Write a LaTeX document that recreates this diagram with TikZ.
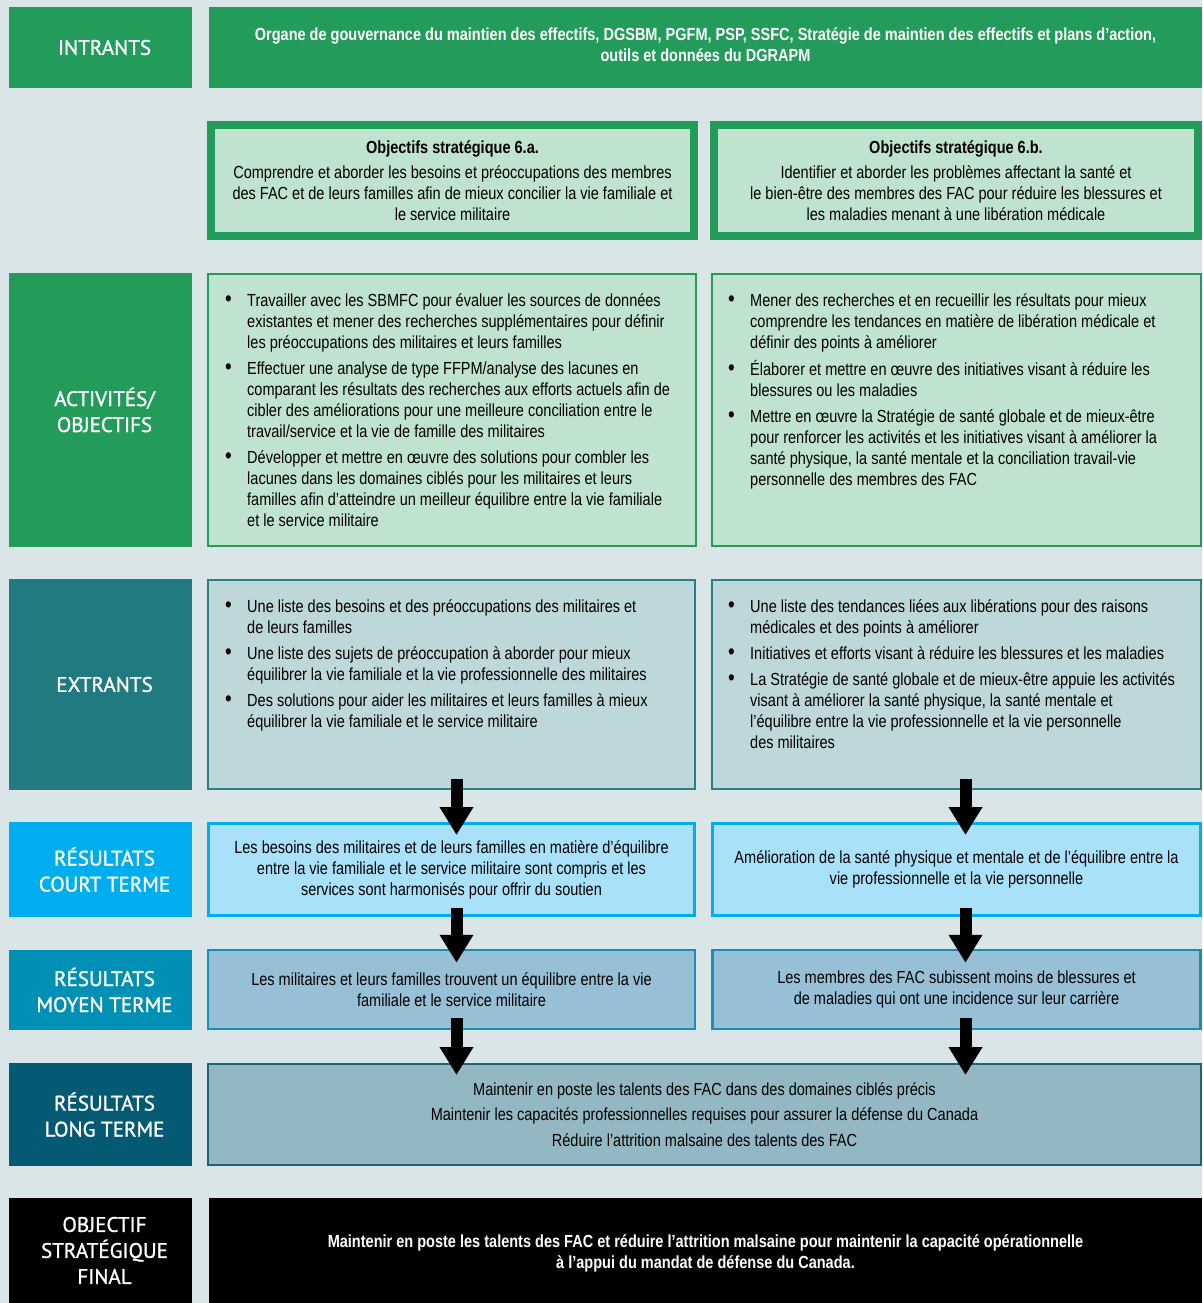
\documentclass[tikz,border=0pt]{standalone}
\usepackage{fontspec}
\setmainfont[FakeStretch=0.83]{Liberation Sans}
\newfontfamily\labfont[FakeBold=1.2]{PT Sans}
\usetikzlibrary{arrows.meta}
\definecolor{bgc}{HTML}{DAE5E8}
\definecolor{gr}{HTML}{239B5A}
\definecolor{lgr}{HTML}{BFE3CF}
\definecolor{tealL}{HTML}{217A7F}
\definecolor{tealF}{HTML}{BDD7DA}
\definecolor{tealB}{HTML}{2B7F83}
\definecolor{cyL}{HTML}{00AEEF}
\definecolor{cyF}{HTML}{A9E1FA}
\definecolor{moL}{HTML}{0090B6}
\definecolor{moF}{HTML}{97BFD6}
\definecolor{moB}{HTML}{1A8DB4}
\definecolor{loL}{HTML}{045A73}
\definecolor{loF}{HTML}{93B8C3}
\definecolor{loB}{HTML}{1F6579}
\newcommand\bodysize{\fontsize{17.5}{21}\selectfont}
\newcommand\bul{\hspace*{3pt}{\fontsize{23}{21}\selectfont\textbullet}}
\begin{document}
\begin{tikzpicture}[x=1pt,y=-1pt,
  labbox/.style={fill=#1, inner sep=0pt, minimum width=183pt},
  labtxt/.style={text=white, font=\labfont\fontsize{21}{26}\selectfont, align=center, inner sep=0pt},
  box/.style={inner sep=0pt, font=\bodysize, align=center},
  listtxt/.style={inner sep=0pt, font=\bodysize, anchor=north west},
  barrow/.style={line width=12pt, -{Triangle[width=32pt,length=28pt]}, black}
]
\fill[bgc] (0,0) rectangle (1202,1303);
\useasboundingbox (0,0) rectangle (1202,1303);

% Row 1: INTRANTS
\node[labbox=gr, minimum height=81pt] (Lin) at (100.5,47.5) {};
\node[labtxt] (Lint) at ([xshift=4pt]Lin.center) {INTRANTS};
\node[box, fill=gr, minimum width=993pt, minimum height=81pt] (Bin) at (705.5,47.5) {};
\node[box, text=white, font=\bodysize\bfseries] (Bint) at ([yshift=3pt]Bin.center)
 {Organe de gouvernance du maintien des effectifs, DGSBM, PGFM, PSP, SSFC, Stratégie de maintien des effectifs et plans d’action,\\
  outils et données du DGRAPM};

% Row 2: Objectifs
\node[box, draw=gr, line width=8pt, fill=lgr, minimum width=483pt, minimum height=111pt] (Oa) at (452.5,180.5)
 {\textbf{Objectifs stratégique 6.a.}\\[4pt]
  Comprendre et aborder les besoins et préoccupations des membres\\
  des FAC et de leurs familles afin de mieux concilier la vie familiale et\\
  le service militaire};
\node[box, draw=gr, line width=8pt, fill=lgr, minimum width=484pt, minimum height=111pt] (Ob) at (956,180.5)
 {\textbf{Objectifs stratégique 6.b.}\\[4pt]
  Identifier et aborder les problèmes affectant la santé et\\
  le bien-être des membres des FAC pour réduire les blessures et\\
  les maladies menant à une libération médicale};

% Row 3: Activités
\node[labbox=gr, minimum height=274pt] (Lact) at (100.5,410) {};
\node[labtxt] (Lactt) at ([xshift=4pt]Lact.center) {ACTIVITÉS/\\OBJECTIFS};
\node[box, draw=gr, line width=2pt, fill=lgr, minimum width=488pt, minimum height=272pt] (Aa) at (452,410) {};
\node[box, draw=gr, line width=2pt, fill=lgr, minimum width=489pt, minimum height=272pt] (Ab) at (956.5,410) {};
\node[listtxt] (Aat) at (222,292) {\begin{tabular}{@{}p{25pt}@{}l@{}}
\bul & Travailler avec les SBMFC pour évaluer les sources de données\\
 & existantes et mener des recherches supplémentaires pour définir\\
 & les préoccupations des militaires et leurs familles\\[5pt]
\bul & Effectuer une analyse de type FFPM/analyse des lacunes en\\
 & comparant les résultats des recherches aux efforts actuels afin de\\
 & cibler des améliorations pour une meilleure conciliation entre le\\
 & travail/service et la vie de famille des militaires\\[5pt]
\bul & Développer et mettre en œuvre des solutions pour combler les\\
 & lacunes dans les domaines ciblés pour les militaires et leurs\\
 & familles afin d’atteindre un meilleur équilibre entre la vie familiale\\
 & et le service militaire
\end{tabular}};
\node[listtxt] (Abt) at (725,292) {\begin{tabular}{@{}p{25pt}@{}l@{}}
\bul & Mener des recherches et en recueillir les résultats pour mieux\\
 & comprendre les tendances en matière de libération médicale et\\
 & définir des points à améliorer\\[5pt]
\bul & Élaborer et mettre en œuvre des initiatives visant à réduire les\\
 & blessures ou les maladies\\[5pt]
\bul & Mettre en œuvre la Stratégie de santé globale et de mieux-être\\
 & pour renforcer les activités et les initiatives visant à améliorer la\\
 & santé physique, la santé mentale et la conciliation travail-vie\\
 & personnelle des membres des FAC
\end{tabular}};

% Row 4: Extrants
\node[labbox=tealL, minimum height=211pt] (Lext) at (100.5,684.5) {};
\node[labtxt] (Lextt) at ([xshift=4pt]Lext.center) {EXTRANTS};
\node[box, draw=tealB, line width=2pt, fill=tealF, minimum width=487pt, minimum height=209pt] (Ea) at (451.5,684.5) {};
\node[box, draw=tealB, line width=2pt, fill=tealF, minimum width=489pt, minimum height=209pt] (Eb) at (956.5,684.5) {};
\node[listtxt] (Eat) at (222,598) {\begin{tabular}{@{}p{25pt}@{}l@{}}
\bul & Une liste des besoins et des préoccupations des militaires et\\
 & de leurs familles\\[5pt]
\bul & Une liste des sujets de préoccupation à aborder pour mieux\\
 & équilibrer la vie familiale et la vie professionnelle des militaires\\[5pt]
\bul & Des solutions pour aider les militaires et leurs familles à mieux\\
 & équilibrer la vie familiale et le service militaire
\end{tabular}};
\node[listtxt] (Ebt) at (725,598) {\begin{tabular}{@{}p{25pt}@{}l@{}}
\bul & Une liste des tendances liées aux libérations pour des raisons\\
 & médicales et des points à améliorer\\[5pt]
\bul & Initiatives et efforts visant à réduire les blessures et les maladies\\[5pt]
\bul & La Stratégie de santé globale et de mieux-être appuie les activités\\
 & visant à améliorer la santé physique, la santé mentale et\\
 & l’équilibre entre la vie professionnelle et la vie personnelle\\
 & des militaires
\end{tabular}};

% Row 5: Court terme
\node[labbox=cyL, minimum height=95pt] (Lct) at (100.5,869.5) {};
\node[labtxt] (Lctt) at ([xshift=4pt]Lct.center) {RÉSULTATS\\COURT TERME};
\node[box, draw=cyL, line width=3pt, fill=cyF, minimum width=486pt, minimum height=92pt] (Ca) at (451.5,869.5)
 {Les besoins des militaires et de leurs familles en matière d’équilibre\\
  entre la vie familiale et le service militaire sont compris et les\\
  services sont harmonisés pour offrir du soutien};
\node[box, draw=cyL, line width=3pt, fill=cyF, minimum width=488pt, minimum height=92pt] (Cb) at (956.5,869.5)
 {Amélioration de la santé physique et mentale et de l’équilibre entre la\\
  vie professionnelle et la vie personnelle};

% Row 6: Moyen terme
\node[labbox=moL, minimum height=80pt] (Lmt) at (100.5,990) {};
\node[labtxt] (Lmtt) at ([xshift=4pt]Lmt.center) {RÉSULTATS\\MOYEN TERME};
\node[box, draw=moB, line width=2.5pt, fill=moF, minimum width=487pt, minimum height=79pt] (Ma) at (451.5,989.5)
 {Les militaires et leurs familles trouvent un équilibre entre la vie\\
  familiale et le service militaire};
\node[box, draw=moB, line width=2.5pt, fill=moF, minimum width=488pt, minimum height=79pt] (Mb) at (956.5,989.5)
 {Les membres des FAC subissent moins de blessures et\\
  de maladies qui ont une incidence sur leur carrière};

% Row 7: Long terme
\node[labbox=loL, minimum height=103pt] (Llt) at (100.5,1114.5) {};
\node[labtxt] (Lltt) at ([xshift=4pt]Llt.center) {RÉSULTATS\\LONG TERME};
\node[box, draw=loB, line width=2pt, fill=loF, minimum width=993pt, minimum height=101pt] (Lo) at (704.5,1114.5)
 {Maintenir en poste les talents des FAC dans des domaines ciblés précis\\[4.5pt]
  Maintenir les capacités professionnelles requises pour assurer la défense du Canada\\[4.5pt]
  Réduire l’attrition malsaine des talents des FAC};

% Row 8: Final
\node[labbox=black, minimum height=105pt] (Lfi) at (100.5,1250.5) {};
\node[labtxt] (Lfit) at ([xshift=4pt]Lfi.center) {OBJECTIF\\STRATÉGIQUE\\FINAL};
\node[box, fill=black, minimum width=993pt, minimum height=105pt] (Fi) at (705.5,1250.5) {};
\node[box, text=white, font=\bodysize\bfseries] (Fit) at ([yshift=-3pt]Fi.center)
 {Maintenir en poste les talents des FAC et réduire l’attrition malsaine pour maintenir la capacité opérationnelle\\
  à l’appui du mandat de défense du Canada.};

% Arrows
\draw[barrow] ([xshift=5pt,yshift=11pt]Ea.south) -- ([xshift=5pt,yshift=-13pt]Ca.north);
\draw[barrow] ([xshift=9pt,yshift=11pt]Eb.south) -- ([xshift=9pt,yshift=-13pt]Cb.north);
\draw[barrow] ([xshift=5pt,yshift=9pt]Ca.south) -- ([xshift=5pt,yshift=-14pt]Ma.north);
\draw[barrow] ([xshift=9pt,yshift=9pt]Cb.south) -- ([xshift=9pt,yshift=-14pt]Mb.north);
\draw[barrow] ([xshift=5pt,yshift=12pt]Ma.south) -- ([xshift=-248pt,yshift=-12pt]Lo.north);
\draw[barrow] ([xshift=9pt,yshift=12pt]Mb.south) -- ([xshift=261pt,yshift=-12pt]Lo.north);
\end{tikzpicture}
\end{document}
